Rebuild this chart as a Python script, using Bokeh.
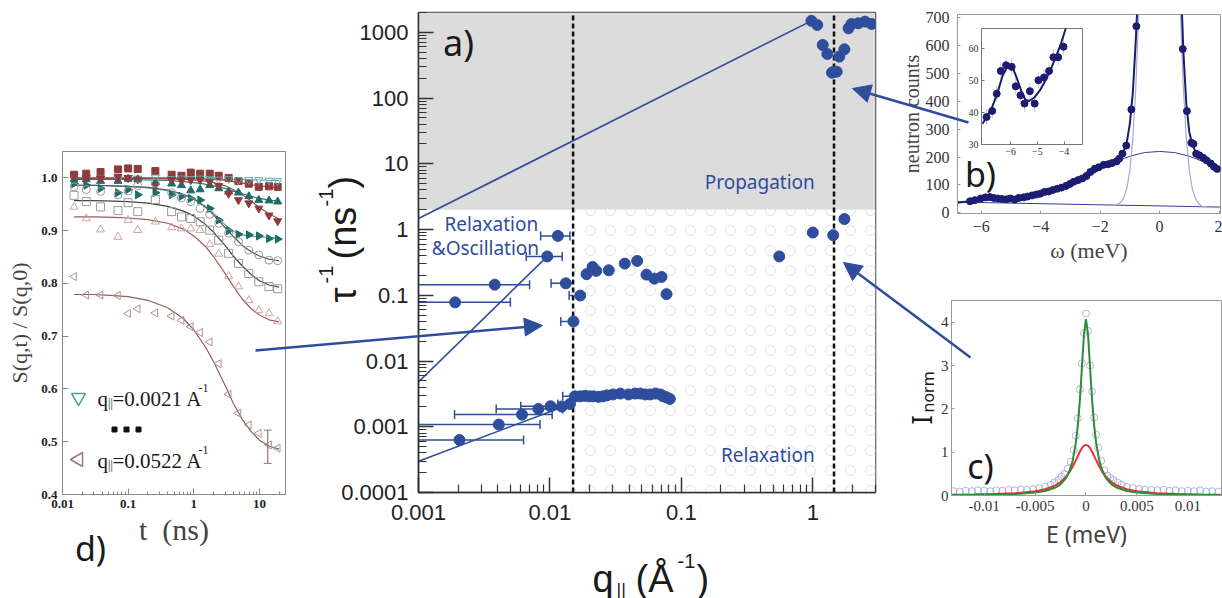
import math
from bokeh.plotting import figure
from bokeh.models import (Range1d, FixedTicker, CustomJSTickFormatter, PrintfTickFormatter,
                          Whisker, TeeHead, ColumnDataSource, Arrow, NormalHead, GridBox)
from bokeh.core.properties import value
from bokeh.embed import file_html
from bokeh.resources import INLINE

BLUE = "#2e4d9c"
SANS = "Liberation Sans"
SERIF = "Liberation Serif"
MYRIAD = "Noto Sans"

# ======================= DATA =======================
# ---- panel a) : relaxation rate vs q_parallel ----
region_gray = dict(left=0.001, right=3.0, bottom=2.0, top=2000.0)
region_hatch = dict(left=0.015, right=3.0, bottom=1e-4, top=2.0)
boundary_q = [0.015, 1.45]

prop_q = [0.976, 1.08, 1.19, 1.29, 1.40, 1.43, 1.52, 1.59, 1.74, 1.87, 1.97, 2.22, 2.5, 2.8]
prop_rate = [1493, 1293, 641, 468, 243, 249, 252, 426, 551, 1150, 1340, 1371, 1453, 1340]
hiq_q = [0.556, 1.0, 1.43, 1.74]
hiq_rate = [0.39, 0.90, 0.82, 1.44]

osc_q = [0.0115, 0.00955, 0.0038, 0.0019, 0.0132, 0.0170, 0.0151, 0.019, 0.0211, 0.0225,
         0.028, 0.0371, 0.0461, 0.0543, 0.0623, 0.0706, 0.0771]
osc_rate = [0.80, 0.39, 0.145, 0.078, 0.152, 0.099, 0.040, 0.209, 0.27, 0.235,
            0.24, 0.303, 0.333, 0.206, 0.179, 0.19, 0.104]
osc_err_rate = [0.80, 0.39, 0.145, 0.078, 0.152, 0.099, 0.040, 0.209, 0.27, 0.24]
osc_err_lo = [0.0085, 0.0066, 0.0009, 0.0009, 0.0102, 0.0140, 0.0121, 0.0170, 0.0190, 0.0255]
osc_err_hi = [0.0142, 0.0124, 0.0070, 0.0050, 0.0165, 0.0203, 0.0183, 0.0212, 0.0235, 0.0310]

rel_q = [0.00205, 0.00408, 0.00613, 0.00817, 0.0101, 0.0123, 0.0142, 0.0155, 0.0169, 0.0185,
         0.0200, 0.0214, 0.0234, 0.0253, 0.0272, 0.0302, 0.0343, 0.0396, 0.0444, 0.0487,
         0.0532, 0.0581, 0.0636, 0.0695, 0.0727, 0.0773, 0.0817]
rel_rate = [0.00063, 0.00108, 0.00153, 0.00187, 0.00205, 0.00203, 0.00222, 0.0029, 0.0029, 0.00295,
            0.0029, 0.0029, 0.00285, 0.0029, 0.0030, 0.0031, 0.0032, 0.0031, 0.0032, 0.0032,
            0.0031, 0.0031, 0.0032, 0.0031, 0.0029, 0.0028, 0.00265]
rel_err_rate = [0.00063, 0.00108, 0.00153, 0.00187, 0.00205, 0.00222, 0.0029, 0.00295, 0.0029,
                0.0030, 0.0031, 0.0032, 0.0032]
rel_err_lo = [0.0009, 0.0009, 0.00188, 0.0039, 0.0060, 0.0115, 0.0125, 0.0160, 0.0185,
              0.0240, 0.0270, 0.0365, 0.0440]
rel_err_hi = [0.0063, 0.0084, 0.0104, 0.0125, 0.0150, 0.0175, 0.0190, 0.0215, 0.0240,
              0.0300, 0.0340, 0.0430, 0.0530]

prop_fit_q = [0.001, 0.976]
prop_fit_rate = [1.47, 1493]
osc_fit_q = [0.001, 0.00955]
osc_fit_rate = [0.0048, 0.39]
rel_fit_q = [0.001, 0.0142]
rel_fit_rate = [0.0003, 0.0022]

# ---- panel b) : neutron counts vs omega ----
b_omega = [-6.38, -6.22, -6.02, -5.86, -5.71, -5.58, -5.44, -5.30, -5.15, -5.02, -4.88, -4.74,
           -4.57, -4.44, -4.29, -4.15, -4.02, -3.88, -3.74, -3.60, -3.44, -3.30, -3.15, -3.02,
           -2.89, -2.74, -2.60, -2.46, -2.33, -2.18, -2.05, -1.88, -1.73, -1.60, -1.45, -1.36,
           -1.25, -1.12, -0.95, -0.78, 0.78, 0.92, 1.07, 1.14, 1.23, 1.34, 1.47, 1.58, 1.72,
           1.83, 1.94]
b_counts = [41, 45, 51, 55, 56, 53, 51, 49, 48, 51, 47, 53, 55, 58, 62, 65, 68, 74, 76, 81, 86,
            90, 96, 103, 111, 117, 123, 132, 146, 158, 163, 172, 174, 178, 184, 194, 212, 241,
            371, 670, 588, 365, 251, 247, 212, 206, 197, 188, 177, 165, 157]
b_fit_omega = [-6.8, -6.5, -6.2, -6.0, -5.8, -5.6, -5.4, -5.2, -5.0, -4.5, -4.0, -3.5, -3.0,
               -2.5, -2.0, -1.6, -1.4, -1.3, -1.2, -1.1, -1.0, -0.9, -0.8, -0.74, 0.74, 0.8,
               0.9, 1.0, 1.1, 1.2, 1.3, 1.5, 1.7, 2.05]
b_fit_counts = [36, 40, 47, 54, 55, 50, 47, 47, 49, 57, 68, 82, 101, 125, 160, 180, 192, 203,
                222, 255, 320, 430, 620, 760, 760, 580, 390, 290, 245, 222, 210, 197, 183, 156]
b_elastic_omega = [-1.6, -1.4, -1.3, -1.2, -1.1, -1.0, -0.9, -0.8, -0.7, -0.62,
                   0.62, 0.7, 0.8, 0.9, 1.0, 1.1, 1.2, 1.3, 1.4, 1.6]
b_elastic_counts = [27, 30, 38, 55, 88, 152, 265, 447, 721, 1000,
                    1000, 721, 447, 265, 151, 86, 52, 35, 24, 21]
b_broad_omega = [-6.8, -6.0, -5.0, -4.0, -3.0, -2.5, -2.0, -1.5, -1.0, -0.5, 0.0, 0.5, 1.0, 1.5, 2.05]
b_broad_counts = [38, 44, 50, 66, 100, 125, 155, 182, 203, 216, 220, 216, 203, 182, 153]
b_base_omega = [-6.8, 2.05]
b_base_counts = [38, 20]

inset_omega = [-6.90, -6.69, -6.52, -6.37, -6.17, -5.96, -5.81, -5.63, -5.48, -5.28, -5.10,
               -4.96, -4.75, -4.56, -4.40, -4.22, -4.02]
inset_counts = [38.6, 40.5, 45.9, 53.0, 54.8, 54.3, 48.2, 45.4, 42.8, 46.7, 42.8, 50.1, 51.0,
                53.0, 57.3, 57.3, 60.6]
inset_err = 2.5
inset_fit_omega = [-7.05, -6.9, -6.7, -6.5, -6.3, -6.1, -5.95, -5.8, -5.6, -5.45, -5.3, -5.1,
                   -4.9, -4.7, -4.5, -4.3, -4.1, -3.95, -3.8]
inset_fit_counts = [36.5, 38.5, 41.5, 46.0, 51.5, 54.8, 54.6, 51.5, 46.8, 44.0, 43.6, 44.8,
                    47.0, 50.0, 53.5, 57.5, 62.0, 66.0, 70.0]

# ---- panel c) : normalised intensity vs E ----
c_energy = [-0.0130, -0.0124, -0.0118, -0.0112, -0.0106, -0.0100, -0.0094, -0.0088, -0.0082,
            -0.0076, -0.0070, -0.0064, -0.0058, -0.0052, -0.0046, -0.0040, -0.0035, -0.0031,
            -0.0027, -0.0024, -0.0021, -0.0018, -0.0015, -0.0012, -0.0010, -0.0008, -0.0006,
            -0.0004, -0.0002, 0.0, 0.0002, 0.0004, 0.0006, 0.0008, 0.0010, 0.0012, 0.0015,
            0.0018, 0.0021, 0.0024, 0.0027, 0.0031, 0.0035, 0.0040, 0.0046, 0.0052, 0.0058,
            0.0064, 0.0070, 0.0076, 0.0082, 0.0088, 0.0094, 0.0100, 0.0106, 0.0112, 0.0118,
            0.0124, 0.0130]
c_inorm = [0.10, 0.09, 0.11, 0.10, 0.12, 0.11, 0.10, 0.12, 0.11, 0.13, 0.12, 0.14, 0.13, 0.15,
           0.17, 0.20, 0.24, 0.30, 0.36, 0.43, 0.50, 0.62, 0.78, 1.05, 1.38, 1.78, 2.45, 3.05,
           3.75, 4.20, 3.80, 3.00, 2.40, 1.80, 1.40, 1.10, 0.80, 0.58, 0.46, 0.40, 0.35, 0.30,
           0.25, 0.20, 0.17, 0.15, 0.14, 0.13, 0.12, 0.13, 0.11, 0.12, 0.10, 0.11, 0.10, 0.12,
           0.09, 0.10, 0.09]
c_fit_energy = [-0.0132, -0.011, -0.009, -0.007, -0.005, -0.004, -0.003, -0.0025, -0.002,
                -0.0016, -0.0013, -0.001, -0.0008, -0.0006, -0.0004, -0.0002, 0.0, 0.0002,
                0.0004, 0.0006, 0.0008, 0.001, 0.0013, 0.0016, 0.002, 0.0025, 0.003, 0.004,
                0.005, 0.007, 0.009, 0.011, 0.0132]
c_green = [0.010, 0.014, 0.021, 0.035, 0.068, 0.105, 0.183, 0.258, 0.389, 0.577, 0.814, 1.21,
           1.62, 2.20, 2.95, 3.72, 4.07, 3.72, 2.95, 2.20, 1.62, 1.21, 0.814, 0.577, 0.389,
           0.258, 0.183, 0.105, 0.068, 0.035, 0.021, 0.014, 0.010]
c_red = [0.015, 0.021, 0.032, 0.051, 0.097, 0.144, 0.234, 0.310, 0.421, 0.547, 0.668, 0.810,
         0.911, 1.009, 1.092, 1.150, 1.170, 1.150, 1.092, 1.009, 0.911, 0.810, 0.668, 0.547,
         0.421, 0.310, 0.234, 0.144, 0.097, 0.051, 0.032, 0.021, 0.015]

# ---- panel d) : S(q,t)/S(q,0) vs t ----
d_t = [0.015, 0.023, 0.038, 0.07, 0.1, 0.14, 0.26, 0.46, 0.65, 0.9, 1.25, 1.75, 2.4, 3.4,
       4.8, 6.9, 9.8, 14, 19]
d_sq_f = [1.006, 1.008, 1.011, 1.016, 1.018, 1.017, 1.013, 1.006, 1.004, 1.010, 1.008, 1.008,
          1.004, 1.000, 0.994, 0.989, 0.983, 0.984, 0.983]
d_dtri_o = [1.002, 1.000, 0.999, 0.998, 1.000, 0.999, 1.001, 0.998, 0.999, 0.998, 0.999, 0.998,
            0.997, 0.998, 0.996, 0.996, 0.996, 0.995, 0.994]
d_utri_f = [0.997, 0.997, 0.994, 0.994, 0.998, 0.997, 0.991, 0.989, 0.986, 0.976, 0.978, 0.986,
            0.980, 0.974, 0.972, 0.965, 0.958, 0.957, 0.955]
d_dtri_f = [1.003, 1.000, 0.999, 1.002, 1.000, 0.997, 0.985, 0.996, 0.995, 0.996, 0.996, 0.993,
            0.985, 0.970, 0.958, 0.952, 0.942, 0.929, 0.918]
d_rtri_f = [0.989, 0.986, 0.980, 0.972, 0.978, 0.968, 0.972, 0.968, 0.965, 0.961, 0.958, 0.942,
            0.920, 0.900, 0.893, 0.892, 0.890, 0.885, 0.884]
d_circ_o = [0.983, 0.978, 0.974, 0.968, 0.975, 0.985, 0.990, 0.972, 0.962, 0.955, 0.942, 0.931,
            0.914, 0.895, 0.879, 0.863, 0.854, 0.844, 0.843]
d_sq_o = [0.967, 0.955, 0.945, 0.938, 0.953, 0.936, 0.959, 0.936, 0.926, 0.923, 0.917, 0.901,
          0.882, 0.857, 0.838, 0.819, 0.803, 0.794, 0.790]
d_tri_o = [0.945, 0.923, 0.902, 0.888, 0.920, 0.901, 0.917, 0.906, 0.904, 0.904, 0.901, 0.874,
           0.856, 0.814, 0.794, 0.768, 0.749, 0.743, 0.728]
d_ltri_o = [0.813, 0.778, 0.778, 0.777, 0.743, 0.752, 0.744, 0.738, 0.730, 0.718, 0.707, 0.689,
            0.648, 0.590, 0.554, 0.532, 0.516, 0.494, 0.488]
d_ltri_err_t = [13.4]
d_ltri_err_lo = [0.459]
d_ltri_err_hi = [0.522]

d_fit_t = [0.015, 0.03, 0.06, 0.1, 0.2, 0.4, 0.7, 1, 1.5, 2, 3, 4, 5.5, 7.5, 10, 14, 20]
f_sq_f = [1.000, 1.000, 1.000, 1.000, 1.000, 1.000, 0.999, 0.999, 0.998, 0.997, 0.995, 0.993,
          0.990, 0.987, 0.985, 0.983, 0.981]
f_dtri_o = [0.998, 0.998, 0.998, 0.998, 0.998, 0.998, 0.998, 0.998, 0.998, 0.998, 0.997, 0.997,
            0.997, 0.996, 0.996, 0.995, 0.995]
f_utri_f = [0.997, 0.997, 0.997, 0.997, 0.996, 0.995, 0.993, 0.991, 0.988, 0.985, 0.980, 0.975,
            0.970, 0.965, 0.961, 0.958, 0.956]
f_dtri_f = [0.999, 0.999, 0.999, 0.999, 0.999, 0.998, 0.997, 0.996, 0.994, 0.991, 0.985, 0.978,
            0.968, 0.956, 0.944, 0.932, 0.922]
f_rtri_f = [0.986, 0.986, 0.985, 0.984, 0.981, 0.976, 0.968, 0.960, 0.946, 0.933, 0.911, 0.899,
            0.892, 0.889, 0.888, 0.887, 0.886]
f_circ_o = [0.986, 0.986, 0.985, 0.984, 0.982, 0.977, 0.969, 0.961, 0.945, 0.930, 0.906, 0.889,
            0.872, 0.860, 0.852, 0.846, 0.843]
f_sq_o = [0.957, 0.957, 0.956, 0.955, 0.952, 0.946, 0.937, 0.928, 0.912, 0.897, 0.872, 0.852,
          0.833, 0.817, 0.805, 0.797, 0.793]
f_tri_o = [0.926, 0.926, 0.925, 0.924, 0.921, 0.914, 0.903, 0.890, 0.870, 0.851, 0.819, 0.795,
           0.770, 0.752, 0.740, 0.731, 0.727]
f_ltri_o = [0.779, 0.779, 0.777, 0.775, 0.768, 0.754, 0.733, 0.712, 0.680, 0.652, 0.607, 0.573,
            0.542, 0.519, 0.503, 0.492, 0.486]

# tick labels
a_x_ticks = [0.001, 0.01, 0.1, 1]
a_y_ticks = [0.0001, 0.001, 0.01, 0.1, 1, 10, 100, 1000]
d_x_ticks = [0.01, 0.1, 1, 10]
d_y_ticks = [0.4, 0.5, 0.6, 0.7, 0.8, 0.9, 1.0]
b_x_ticks = [-6, -4, -2, 0, 2]
b_y_ticks = [0, 100, 200, 300, 400, 500, 600, 700]
inset_x_ticks = [-6, -5, -4]
inset_y_ticks = [30, 40, 50, 60]
c_x_ticks = [-0.01, -0.005, 0, 0.005, 0.01]
c_y_ticks = [0, 1, 2, 3, 4]

# ======================= HELPERS =======================
TOSTR = CustomJSTickFormatter(code="return (Math.abs(tick) < 1e-12) ? '0' : tick.toString();")


def log_minor(majors, top):
    out = []
    for m in majors:
        for k in range(2, 10):
            v = m * k
            if v <= top:
                out.append(v)
    return out


def base_fig(**kw):
    p = figure(output_backend="svg", toolbar_location=None, **kw)
    p.xgrid.grid_line_color = None
    p.ygrid.grid_line_color = None
    return p


def style_axes(p, font, size, color="#222", bold=False):
    for ax in (p.xaxis, p.yaxis):
        ax.major_label_text_font = font
        ax.major_label_text_font_size = size
        ax.major_label_text_color = color
        ax.major_label_text_font_style = "bold" if bold else "normal"
        ax.axis_label_text_font_style = "normal"
        ax.major_tick_out = 0
        ax.minor_tick_out = 0


# ======================= PANEL a =======================
pa = base_fig(width=590, height=598, x_axis_type="log", y_axis_type="log",
              x_range=Range1d(0.001, 3.0), y_range=Range1d(1e-4, 2000),
              min_border_left=118, min_border_right=15, min_border_top=12, min_border_bottom=106)
pa.quad(left=[region_gray["left"]], right=[region_gray["right"]],
        bottom=[region_gray["bottom"]], top=[region_gray["top"]],
        fill_color="#dcdcdc", line_color=None)
pa.quad(left=[region_hatch["left"]], right=[region_hatch["right"]],
        bottom=[region_hatch["bottom"]], top=[region_hatch["top"]],
        fill_color="white", line_color=None, hatch_pattern="ring",
        hatch_color="#e0e0e0", hatch_scale=20, hatch_weight=1)
pa.segment(x0=boundary_q, x1=boundary_q, y0=[1e-4] * 2, y1=[2000] * 2,
           line_color="#111", line_width=2.5, line_dash="5 3")
pa.line(prop_fit_q, prop_fit_rate, line_color=BLUE, line_width=1.6)
pa.line(osc_fit_q, osc_fit_rate, line_color=BLUE, line_width=1.6)
pa.line(rel_fit_q, rel_fit_rate, line_color=BLUE, line_width=1.6)

for rate, lo, hi in ((osc_err_rate, osc_err_lo, osc_err_hi), (rel_err_rate, rel_err_lo, rel_err_hi)):
    src = ColumnDataSource(dict(base=rate, lower=lo, upper=hi))
    w = Whisker(source=src, base="base", lower="lower", upper="upper", dimension="width",
                line_color=BLUE, line_width=1.5,
                lower_head=TeeHead(size=9, line_color=BLUE, line_width=1.5),
                upper_head=TeeHead(size=9, line_color=BLUE, line_width=1.5))
    pa.add_layout(w)

for qq, rr in ((prop_q, prop_rate), (hiq_q, hiq_rate), (osc_q, osc_rate), (rel_q, rel_rate)):
    pa.scatter(qq, rr, size=11, fill_color=BLUE, line_color=BLUE)

pa.text(x=[0.395], y=[5.2], text=["Propagation"], text_font=value(MYRIAD), text_font_size="19px",
        text_color=BLUE, text_align="center", text_baseline="middle")
pa.text(x=[0.00358, 0.00323], y=[1.2, 0.52], text=["Relaxation", "&Oscillation"],
        text_font=value(MYRIAD), text_font_size="19px", text_color=BLUE,
        text_align="center", text_baseline="middle")
pa.text(x=[0.455], y=[0.000366], text=["Relaxation"], text_font=value(MYRIAD),
        text_font_size="19px", text_color=BLUE, text_align="center", text_baseline="middle")

style_axes(pa, SANS, "22px")
pa.xaxis.ticker = FixedTicker(ticks=a_x_ticks, minor_ticks=log_minor(a_x_ticks, 3.0))
pa.yaxis.ticker = FixedTicker(ticks=a_y_ticks, minor_ticks=log_minor(a_y_ticks, 2000))
pa.xaxis.formatter = TOSTR
pa.yaxis.formatter = TOSTR
for ax in (pa.xaxis, pa.yaxis):
    ax.major_tick_in = 15
    ax.minor_tick_in = 8
    ax.major_tick_line_width = 1.5
    ax.minor_tick_line_width = 1.2
    ax.axis_line_width = 1.5
    ax.axis_line_color = "#333"
    ax.major_tick_line_color = "#333"
    ax.minor_tick_line_color = "#333"
pa.xaxis.major_label_standoff = 12
pa.yaxis.major_label_standoff = 10
pa.outline_line_color = "#444"
pa.outline_line_width = 1.5

# ======================= PANEL d =======================
pdd = base_fig(width=300, height=598, x_axis_type="log",
               x_range=Range1d(0.01, 25), y_range=Range1d(0.4, 1.05),
               min_border_left=62, min_border_right=15, min_border_top=151, min_border_bottom=104)
TEAL_L = "#5aaaaa"
TEAL_D = "#1d6b6b"
RED_D = "#8e3b3b"
GRAY = "#9a9a9a"
PINK = "#c9a3a3"
MAUVE = "#b09090"
fits = [(f_sq_f, "#a04a4a"), (f_dtri_o, TEAL_L), (f_utri_f, "#2a7a7a"), (f_dtri_f, "#a04a4a"),
        (f_rtri_f, TEAL_L), (f_circ_o, "#555555"), (f_sq_o, "#444444"), (f_tri_o, "#a05a5a"),
        (f_ltri_o, "#8b6060")]
for vals, col in fits:
    pdd.line(d_fit_t, vals, line_color=col, line_width=1.2)

pdd.scatter(d_t, d_sq_f, marker="square", size=7, fill_color=RED_D, line_color=RED_D)
pdd.scatter(d_t, d_dtri_o, marker="inverted_triangle", size=8, fill_color=None, line_color=TEAL_L)
pdd.scatter(d_t, d_utri_f, marker="triangle", size=8, fill_color=TEAL_D, line_color=TEAL_D)
pdd.scatter(d_t, d_dtri_f, marker="inverted_triangle", size=8, fill_color=RED_D, line_color=RED_D)
pdd.scatter(d_t, d_rtri_f, marker="triangle", angle=-math.pi / 2, size=8,
            fill_color=TEAL_D, line_color=TEAL_D)
pdd.scatter(d_t, d_circ_o, marker="circle", size=8, fill_color=None, line_color=GRAY)
pdd.scatter(d_t, d_sq_o, marker="square", size=8, fill_color=None, line_color=GRAY)
pdd.scatter(d_t, d_tri_o, marker="triangle", size=8, fill_color=None, line_color=PINK)
pdd.scatter(d_t, d_ltri_o, marker="triangle", angle=math.pi / 2, size=8,
            fill_color=None, line_color=MAUVE)
wsrc = ColumnDataSource(dict(base=d_ltri_err_t, lower=d_ltri_err_lo, upper=d_ltri_err_hi))
pdd.add_layout(Whisker(source=wsrc, base="base", lower="lower", upper="upper", dimension="height",
                       line_color="#9a7070", line_width=1.2,
                       lower_head=TeeHead(size=8, line_color="#9a7070"),
                       upper_head=TeeHead(size=8, line_color="#9a7070")))

style_axes(pdd, SERIF, "13px", bold=True)
pdd.xaxis.ticker = FixedTicker(ticks=d_x_ticks, minor_ticks=log_minor(d_x_ticks, 25))
pdd.xaxis.formatter = TOSTR
pdd.yaxis.ticker = FixedTicker(ticks=d_y_ticks)
pdd.yaxis.formatter = PrintfTickFormatter(format="%.1f")
for ax in (pdd.xaxis, pdd.yaxis):
    ax.major_tick_in = 6
    ax.minor_tick_in = 3
    ax.axis_line_color = "#888"
    ax.major_tick_line_color = "#888"
    ax.minor_tick_line_color = "#888"
pdd.yaxis.minor_tick_in = 0
pdd.xaxis.major_label_standoff = 5
pdd.yaxis.major_label_standoff = 5
pdd.yaxis.axis_label = "S(q,t) / S(q,0)"
pdd.yaxis.axis_label_text_font = SERIF
pdd.yaxis.axis_label_text_font_size = "22px"
pdd.yaxis.axis_label_standoff = 6
pdd.xaxis.axis_label = "t\u00a0\u00a0(ns)"
pdd.xaxis.axis_label_text_font = SERIF
pdd.xaxis.axis_label_text_font_size = "30px"
pdd.xaxis.axis_label_standoff = 2
pdd.outline_line_color = "#888"

# ======================= PANEL b =======================
NAVY = "#1c1c70"
pb = base_fig(width=332, height=275, x_range=Range1d(-6.8, 2.05), y_range=Range1d(-3, 712),
              min_border_left=67, min_border_right=2, min_border_top=14, min_border_bottom=62)
pb.line(b_base_omega, b_base_counts, line_color="#3a3a90", line_width=1)
pb.line(b_broad_omega, b_broad_counts, line_color="#3a3a90", line_width=1)
pb.line(b_elastic_omega, b_elastic_counts, line_color="#a8a8d8", line_width=1.2)
pb.line(b_fit_omega, b_fit_counts, line_color=NAVY, line_width=2)
pb.scatter(b_omega, b_counts, size=7, fill_color=NAVY, line_color=NAVY)
style_axes(pb, SERIF, "16px", color="#333")
pb.xaxis.ticker = FixedTicker(ticks=b_x_ticks)
pb.yaxis.ticker = FixedTicker(ticks=b_y_ticks)
for ax in (pb.xaxis, pb.yaxis):
    ax.major_tick_in = 3
    ax.minor_tick_in = 0
    ax.axis_line_color = "#999"
    ax.major_tick_line_color = "#999"
pb.xaxis.major_label_standoff = 7
pb.yaxis.major_label_standoff = 8
pb.yaxis.axis_label = "neutron counts"
pb.yaxis.axis_label_text_font = SERIF
pb.yaxis.axis_label_text_font_size = "20px"
pb.yaxis.axis_label_standoff = 0
pb.xaxis.axis_label = "\u03c9 (meV)"
pb.xaxis.axis_label_text_font = SERIF
pb.xaxis.axis_label_text_font_size = "22px"
pb.xaxis.axis_label_standoff = 3
pb.outline_line_color = "#999"

# ---- inset of b ----
pin = base_fig(width=126, height=140, x_range=Range1d(-7.09, -3.31), y_range=Range1d(30, 66.3),
               min_border_left=23, min_border_right=2, min_border_top=8, min_border_bottom=16)
pin.border_fill_color = None
pin.segment(x0=inset_omega, x1=inset_omega, y0=[c - inset_err for c in inset_counts],
            y1=[c + inset_err for c in inset_counts], line_color="#c4c4d4", line_width=1)
pin.line(inset_fit_omega, inset_fit_counts, line_color=NAVY, line_width=2)
pin.scatter(inset_omega, inset_counts, size=7, fill_color=NAVY, line_color=NAVY)
style_axes(pin, SERIF, "10px", color="#333")
pin.xaxis.ticker = FixedTicker(ticks=inset_x_ticks)
pin.yaxis.ticker = FixedTicker(ticks=inset_y_ticks)
for ax in (pin.xaxis, pin.yaxis):
    ax.major_tick_in = 3
    ax.minor_tick_in = 0
    ax.axis_line_color = "#777"
    ax.major_tick_line_color = "#777"
    ax.major_label_standoff = 3
pin.outline_line_color = "#777"

# ======================= PANEL c =======================
pc = base_fig(width=332, height=323, x_range=Range1d(-0.0132, 0.0133), y_range=Range1d(0, 4.5),
              min_border_left=61, min_border_right=1, min_border_top=25, min_border_bottom=103)
pc.scatter(c_energy, c_inorm, marker="circle", size=7, fill_color=None,
           line_color="#9aa6d6", line_alpha=0.8)
pc.line(c_fit_energy, c_red, line_color="#e8352e", line_width=2)
pc.line(c_fit_energy, c_green, line_color="#2e8b3a", line_width=2)
style_axes(pc, SERIF, "15px", color="#333")
pc.xaxis.ticker = FixedTicker(ticks=c_x_ticks)
pc.xaxis.formatter = TOSTR
pc.yaxis.ticker = FixedTicker(ticks=c_y_ticks)
for ax in (pc.xaxis, pc.yaxis):
    ax.major_tick_in = 3
    ax.minor_tick_in = 0
    ax.axis_line_color = "#999"
    ax.major_tick_line_color = "#999"
pc.xaxis.major_label_standoff = 5
pc.yaxis.major_label_standoff = 3
pc.xaxis.axis_label = "E (meV)"
pc.xaxis.axis_label_text_font = MYRIAD
pc.xaxis.axis_label_text_font_size = "23px"
pc.xaxis.axis_label_standoff = 4
pc.outline_line_color = "#999"

# ======================= OVERLAY (labels + arrows) =======================
ov = figure(width=1222, height=598, x_range=Range1d(0, 1222), y_range=Range1d(598, 0),
            x_axis_type=None, y_axis_type=None, min_border=0, output_backend="svg",
            toolbar_location=None)
ov.background_fill_color = None
ov.border_fill_color = None
ov.outline_line_color = None
ov.xgrid.grid_line_color = None
ov.ygrid.grid_line_color = None


def otext(x, y, t, font, size, align="left", baseline="alphabetic", angle=0.0, color="#1a1a1a",
          style="normal"):
    ov.text(x=[x], y=[y], text=[t], text_font=value(font), text_font_size=size,
            text_align=align, text_baseline=baseline, angle=angle, text_color=color,
            text_font_style=style)


# panel letters
otext(458, 42, "a)", MYRIAD, "36px", "center", "middle")
otext(980, 173, "b)", MYRIAD, "34px", "center", "middle")
otext(980, 465, "c)", MYRIAD, "34px", "center", "middle")
otext(90, 547, "d)", MYRIAD, "34px", "center", "middle")

# a) axis labels (x label pieces, y label pieces rotated)
otext(592, 578, "q", SANS, "38px")
otext(616, 589, "||", SANS, "18px")
otext(635, 578, "(\u00c5", SANS, "38px")
otext(677, 560, "-1", SANS, "20px")
otext(696, 578, ")", SANS, "38px")
R = math.pi / 2
otext(342, 302, "\u03c4", SANS, "38px", angle=R)
otext(325, 283, "-1", SANS, "20px", angle=R)
otext(342, 259, "(ns", SANS, "38px", angle=R)
otext(325, 206, "-1", SANS, "20px", angle=R)
otext(342, 188, ")", SANS, "38px", angle=R)

# c) y label
otext(920, 424, "I", MYRIAD, "28px", angle=R)
otext(927, 412, "norm", MYRIAD, "16px", angle=R)

# d) legend
ov.scatter([78], [397], marker="inverted_triangle", size=14, fill_color=None,
           line_color="#4ba0a0", line_width=1.5)
ov.scatter([78], [459], marker="triangle", angle=math.pi / 2, size=14, fill_color=None,
           line_color="#9a7a7a", line_width=1.5)
for yb, txt in ((398, "=0.0021 A"), (460, "=0.0522 A")):
    otext(97, yb, "q", SERIF, "21px")
    otext(107.5, yb + 4, "||", SERIF, "12px")
    otext(112, yb, txt, SERIF, "21px")
    otext(198, yb - 11, "-1", SERIF, "12px")
ov.scatter([114, 126, 138], [429] * 3, marker="square", size=5, fill_color="#111", line_color="#111")

# arrows
for (x0, y0, x1, y1) in ((255, 350, 542, 325), (968, 122, 852, 88), (970, 357, 843, 262)):
    ov.add_layout(Arrow(x_start=x0, y_start=y0, x_end=x1, y_end=y1, line_color=BLUE,
                        line_width=2.5,
                        end=NormalHead(size=18, fill_color=BLUE, line_color=BLUE)))

# Grid with zero-size spacer tracks so that no two plots share a start/end track
# (prevents Bokeh from aligning the frames of overlapping plots).
grid = GridBox(children=[(pdd, 0, 1, 9, 1), (pa, 1, 2, 9, 1), (pb, 2, 3, 5, 4),
                         (pin, 5, 5, 1, 1), (pc, 7, 4, 4, 4), (ov, 3, 0, 9, 9)],
               cols=["0px", "300px", "590px", "0px", "68px", "126px", "138px", "0px", "0px"],
               rows=["0px", "0px", "0px", "0px", "20px", "140px", "115px", "323px",
                     "0px", "0px", "0px", "0px"],
               spacing=0)

open("out.html", "w").write(file_html(grid, INLINE))
